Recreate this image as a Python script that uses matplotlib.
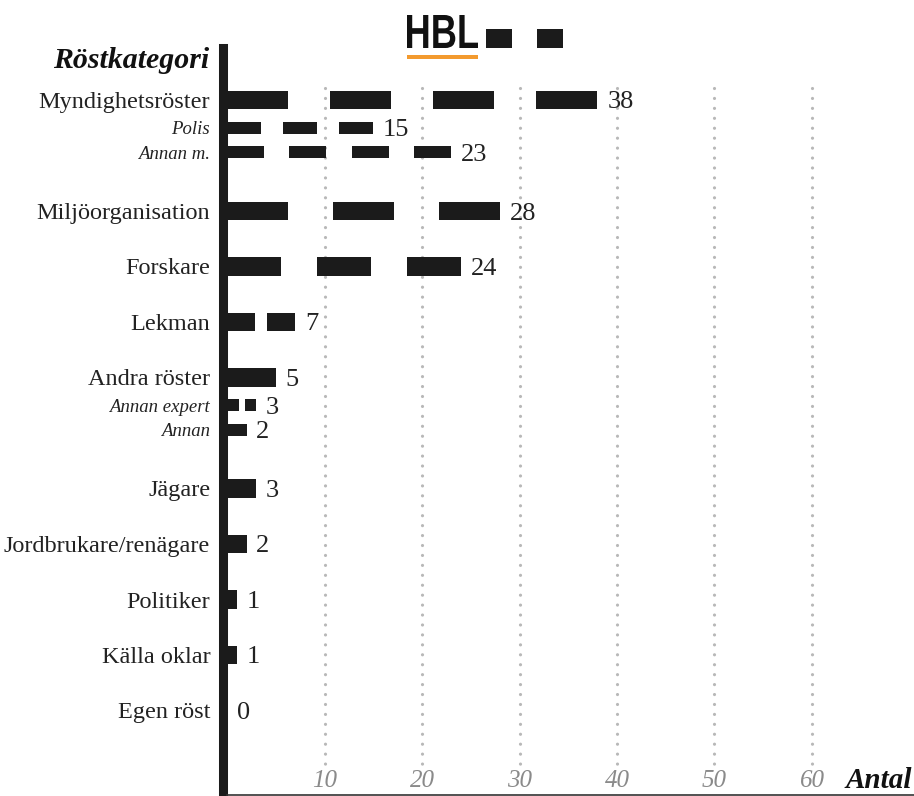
import numpy as np
import matplotlib
matplotlib.use('Agg')
from matplotlib import pyplot as plt
from matplotlib.patches import Rectangle, PathPatch
from matplotlib.textpath import TextPath
from matplotlib.font_manager import FontProperties
from matplotlib.transforms import Affine2D

# Data
kategorier = ['Myndighetsröster', 'Polis', 'Annan m.', 'Miljöorganisation', 'Forskare',
              'Lekman', 'Andra röster', 'Annan expert', 'Annan', 'Jägare',
              'Jordbrukare/renägare', 'Politiker', 'Källa oklar', 'Egen röst']
antal = [38, 15, 23, 28, 24, 7, 5, 3, 2, 3, 2, 1, 1, 0]
underkategori = [False, True, True, False, False, False, False, True, True,
                 False, False, False, False, False]
x_ticks = [10, 20, 30, 40, 50, 60]

# Style: number of dash segments in each bar and the gap/dash ratio
segment = [4, 3, 4, 3, 3, 2, 1, 2, 1, 1, 1, 1, 1, 1]
gap = [0.69, 0.65, 0.69, 0.72, 0.66, 0.43, 0, 0.5, 0, 0, 0, 0, 0, 0]
svart = '#1b1b1b'
serif = 'Liberation Serif'
plt.rcParams['font.family'] = serif

# Row positions: main rows one unit apart, a group with sub rows takes two units
pos = []
rad = 0
sub = 0
for i, u in enumerate(underkategori):
    if u:
        sub += 1
        pos.append(rad + [0, 0.5, 0.94][sub])
    else:
        if i > 0:
            rad += 2 if sub else 1
        sub = 0
        pos.append(rad)

fig = plt.figure(figsize=(9.14, 7.96), dpi=100)
W, H = 914, 796
ax = fig.add_axes([227 / W, 1 / H, (W - 227) / W, (795 - 48) / H])
ax.set_xlim(0, (W - 227) / 9.75)
ax.set_ylim((795 - 100) / 55.5, -(100 - 48) / 55.5)

# dotted grid lines
for t in x_ticks:
    ax.plot([t, t], [-0.22, 11.97], color='#b8b8b8', lw=2.3,
            linestyle=(0, (0.01, 3.1)), dash_capstyle='round', zorder=1)

# dashed bars
for y, v, n, r, u in zip(pos, antal, segment, gap, underkategori):
    if v > 0:
        d = v / (n + (n - 1) * r)
        lefts = np.arange(n) * d * (1 + r)
        ax.barh([y] * n, d, left=lefts, height=0.216 if u else 0.333,
                color=svart, zorder=3)
    ax.annotate(str(v), (v, y), xytext=(7, 0), textcoords='offset points',
                va='center_baseline', ha='left', fontsize=19, color='#222222')

# category labels
for y, namn, u in zip(pos, kategorier, underkategori):
    ax.text(-0.0245, y, namn, transform=ax.get_yaxis_transform(), ha='right',
            va='center_baseline', color='#222222',
            fontsize=13.5 if u else 17.5, style='italic' if u else 'normal')
ax.set_yticks([])
ax.set_xticks([])

# x tick labels drawn inside the plot area
for t in x_ticks:
    ax.text(t, 12.27, str(t), ha='center', va='center', fontsize=18,
            style='italic', color='#8a8a8a')
ax.text(0.997, 12.27, 'Antal', transform=ax.get_yaxis_transform(), ha='right',
        va='center', fontsize=21, style='italic', weight='bold', color='#111111')

for s in ['top', 'right']:
    ax.spines[s].set_visible(False)
ax.spines['left'].set_linewidth(6.5)
ax.spines['left'].set_color(svart)
ax.spines['left'].set_position(('outward', 3.2))
ax.spines['bottom'].set_linewidth(1.2)
ax.spines['bottom'].set_color('#333333')

# header
fig.text(209 / W, 1 - 68 / H, 'Röstkategori', ha='right', va='baseline',
         fontsize=21.5, style='italic', weight='bold', color='#111111')

# HBL logo, condensed by scaling the glyph outlines
tp = TextPath((0, 0), 'HBL', size=100,
              prop=FontProperties(family='Liberation Sans', weight='bold'))
ext = tp.get_extents()
sx = 71 / ext.width
sy = 33 / ext.height
logo = Affine2D().translate(-ext.x0, -ext.y0).scale(sx, sy).translate(407, H - 48)
fig.add_artist(PathPatch(tp, transform=logo, color='#111111', lw=0))
fig.add_artist(Rectangle((407 / W, 1 - 59 / H), 71 / W, 4 / H,
                         transform=fig.transFigure, color='#f39a2e', lw=0))
for x0 in [486, 537]:
    fig.add_artist(Rectangle((x0 / W, 1 - 48 / H), 26 / W, 19 / H,
                             transform=fig.transFigure, color=svart, lw=0))

fig.savefig('out.png', dpi=100)
